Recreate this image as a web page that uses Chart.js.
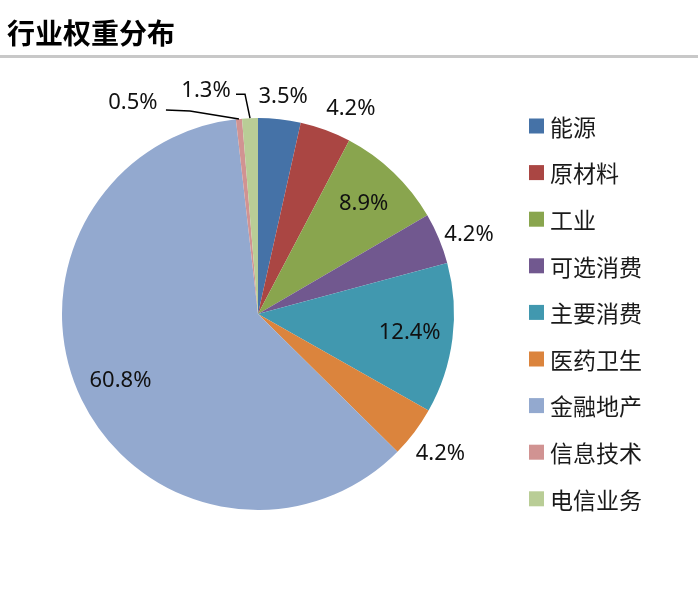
<!DOCTYPE html>
<html>
<head>
<meta charset="utf-8">
<script src="https://cdn.jsdelivr.net/npm/chart.js@4"></script>
<style>
    html, body { margin: 0; padding: 0; background: #fff; }
    #wrap { width: 698px; height: 590px; position: relative; }
</style>
</head>
<body>
<div id="wrap"><canvas id="pieChart"></canvas></div>
<script>
// dados
const categorias = ['能源', '原材料', '工业', '可选消费', '主要消费', '医药卫生', '金融地产', '信息技术', '电信业务'];
const pesos = [3.5, 4.2, 8.9, 4.2, 12.4, 4.2, 60.8, 0.5, 1.3];
const cores = ['#4572A7', '#AA4643', '#89A54E', '#71588F', '#4198AF', '#DB843D', '#93A9CF', '#D19392', '#B9CD96'];
const titulo = '行业权重分布';

// onde fica cada rótulo: dentro, fora, ou fora com linha guia
const posRotulos = [
    { mode: 'out' }, { mode: 'out', dx: 14 }, { mode: 'in' }, { mode: 'out', dy: 5 },
    { mode: 'in' }, { mode: 'out', dy: 8 }, { mode: 'in' },
    { mode: 'leader', lx: -106, ly: -16, path: [[-49, -8], [-73, -9]] },
    { mode: 'leader', lx: -44, ly: -27, path: [[-5, -24], [-14, -24]] }
];

const LABEL_FONT = '22px "Noto Sans", sans-serif';

// título, linha cinza e legenda
const moldura = {
    id: 'moldura',
    afterDraw(chart) {
        const ctx = chart.ctx;
        ctx.save();
        ctx.fillStyle = '#000';
        ctx.font = 'bold 28px "Noto Sans CJK SC", sans-serif';
        ctx.textBaseline = 'middle';
        ctx.textAlign = 'left';
        ctx.fillText(titulo, 7, 33);

        ctx.fillStyle = '#c8c8c8';
        ctx.fillRect(0, 55, chart.width, 3);

        // legenda
        ctx.font = '23px "Noto Sans CJK SC", sans-serif';
        categorias.forEach((cat, i) => {
            const y = 126 + i * 46.6;
            ctx.fillStyle = cores[i];
            ctx.fillRect(529, y - 7.5, 15, 15);
            ctx.fillStyle = '#1a1a1a';
            ctx.fillText(cat, 550, y + 1);
        });
        ctx.restore();
    }
};

// rótulos de porcentagem
const rotulos = {
    id: 'rotulos',
    afterDatasetsDraw(chart) {
        const ctx = chart.ctx;
        const meta = chart.getDatasetMeta(0);
        ctx.save();
        ctx.font = LABEL_FONT;
        ctx.fillStyle = '#111';
        ctx.strokeStyle = '#000';
        ctx.lineWidth = 1.5;
        ctx.textAlign = 'center';
        ctx.textBaseline = 'middle';
        meta.data.forEach((arc, i) => {
            const p = posRotulos[i];
            const txt = pesos[i].toFixed(1) + '%';
            const { x, y, startAngle, endAngle, outerRadius } = arc.getProps(['x', 'y', 'startAngle', 'endAngle', 'outerRadius'], true);
            const mid = (startAngle + endAngle) / 2;
            if (p.mode === 'in') {
                const r = outerRadius * 0.78;
                ctx.fillText(txt, x + Math.cos(mid) * r, y + Math.sin(mid) * r);
            } else if (p.mode === 'out') {
                const w = ctx.measureText(txt).width;
                const h = 30;
                const r = outerRadius + 8;
                const px = x + Math.cos(mid) * r;
                const py = y + Math.sin(mid) * r;
                const cx = px + Math.cos(mid) * w / 2 + (p.dx || 0);
                const cy = py + Math.sin(mid) * h / 2 + (p.dy || 0);
                ctx.fillText(txt, cx, cy);
            } else {
                const ex = x + Math.cos(mid) * outerRadius;
                const ey = y + Math.sin(mid) * outerRadius;
                ctx.beginPath();
                ctx.moveTo(ex, ey);
                p.path.forEach(pt => ctx.lineTo(ex + pt[0], ey + pt[1]));
                ctx.stroke();
                ctx.fillText(txt, ex + p.lx, ey + p.ly);
            }
        });
        ctx.restore();
    }
};

new Chart(document.getElementById('pieChart'), {
    type: 'pie',
    data: {
        labels: categorias,
        datasets: [{
            data: pesos,
            backgroundColor: cores,
            borderWidth: 0
        }]
    },
    options: {
        responsive: true,
        maintainAspectRatio: false,
        animation: false,
        layout: { padding: { left: 62, top: 118, right: 244, bottom: 80 } },
        plugins: {
            legend: { display: false },
            tooltip: { enabled: false }
        }
    },
    plugins: [moldura, rotulos]
});
</script>
</body>
</html>
